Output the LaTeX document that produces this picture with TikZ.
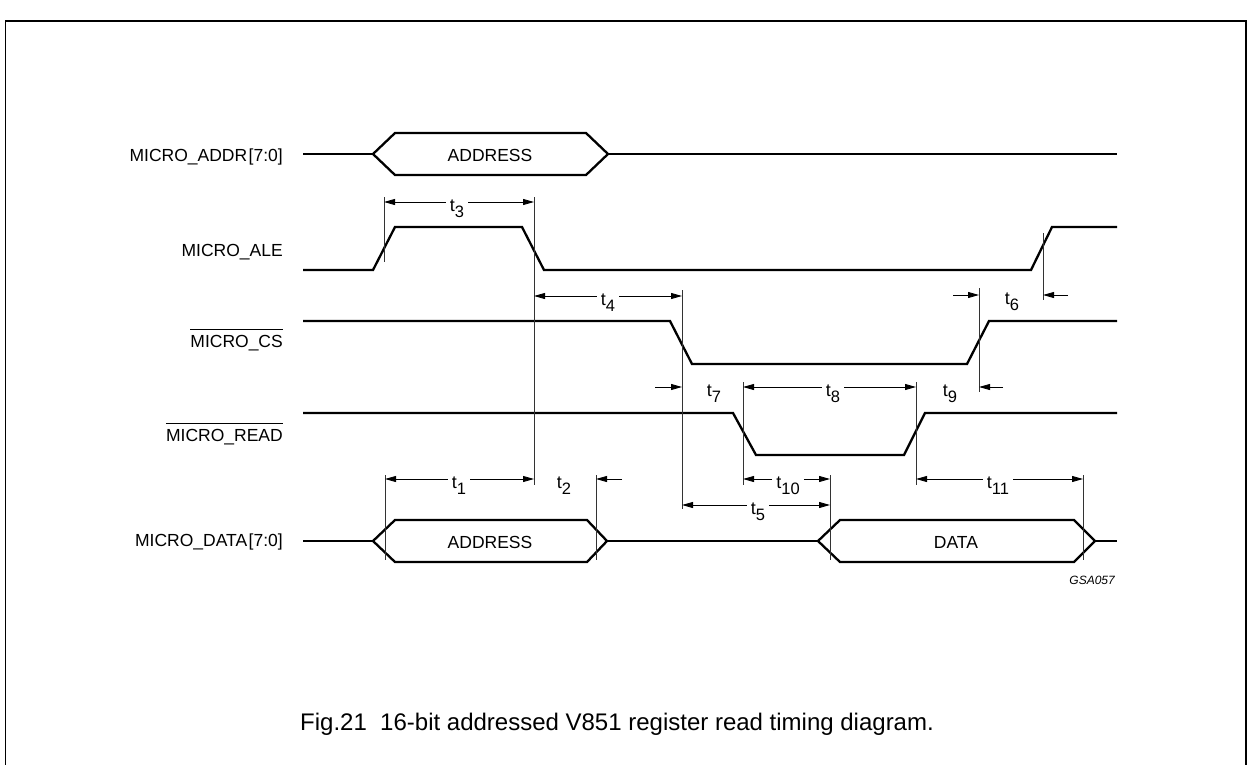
\documentclass[tikz,border=0pt]{standalone}
\usepackage{fontspec}
\setmainfont{Liberation Sans}
\usetikzlibrary{arrows.meta}
\newcommand{\tlab}[1]{t\raisebox{-6pt}{\fontsize{16.5}{16.5}\selectfont #1}}
\begin{document}
\begin{tikzpicture}[x=1pt,y=-1pt,
  sig/.style={line width=2.3pt, line join=miter},
  tickline/.style={line width=0.8pt, draw=black!80},
  dimarrow/.style={line width=0.8pt, -{Triangle[length=11pt,width=6pt]}},
  lab/.style={font=\fontsize{17.5}{21}\selectfont, inner sep=0pt},
  tname/.style={font=\fontsize{18}{21}\selectfont, inner xsep=4pt, inner ysep=0pt, anchor=base}]
\useasboundingbox (0,0) rectangle (1247,764);
% frame
\draw[line width=1.6pt] (5.3,770) -- (5.3,20.7) -- (1246,20.7) -- (1246,770);

% signal names
\node[lab, anchor=base east] (lA) at (283,161.5) {MICRO\_ADDR\kern1.5pt[7:0]};
\node[lab, anchor=base east] (lL) at (283,256.7) {MICRO\_ALE};
\node[lab, anchor=base east] (lC) at (283,347.7) {MICRO\_CS};
\node[lab, anchor=base east] (lR) at (283,441.7) {MICRO\_READ};
\node[lab, anchor=base east] (lD) at (283,546) {MICRO\_DATA\kern1.5pt[7:0]};
\draw[line width=0.8pt] ([yshift=6pt]lC.north west) -- ([yshift=6pt]lC.north east);
\draw[line width=0.8pt] ([yshift=6pt]lR.north west) -- ([yshift=6pt]lR.north east);

% MICRO_ADDR
\draw[sig] (303,154) -- (373,154) (608,154) -- (1117,154);
\draw[sig] (373,154) -- (395,133) -- (586,133) -- (608,154) -- (586,175) -- (395,175) -- cycle;
\node[lab] (aA) at (490,155) {ADDRESS};
% MICRO_ALE
\draw[sig] (303,270) -- (373,270) -- (395,227) -- (522,227) -- (544,270) -- (1031,270) -- (1052,227) -- (1117,227);
% MICRO_CS
\draw[sig] (303,321) -- (670,321) -- (692,364) -- (967,364) -- (989,321) -- (1117,321);
% MICRO_READ
\draw[sig] (303,413) -- (733,413) -- (756,455) -- (904,455) -- (925,413) -- (1117,413);
% MICRO_DATA
\draw[sig] (303,541) -- (373,541) (607,541) -- (818,541) (1095,541) -- (1117,541);
\draw[sig] (373,541) -- (395,520) -- (587,520) -- (607,541) -- (587,562) -- (395,562) -- cycle;
\draw[sig] (818,541) -- (840,520) -- (1074,520) -- (1095,541) -- (1074,562) -- (840,562) -- cycle;
\node[lab] (aD) at (490,542) {ADDRESS};
\node[lab] (dD) at (956,542) {DATA};

% timing reference lines
\draw[tickline] (384,197) -- (384,262);
\draw[tickline] (534,197) -- (534,485);
\draw[tickline] (682,290) -- (682,509);
\draw[tickline] (743,382) -- (743,485);
\draw[tickline] (916,382) -- (916,485);
\draw[tickline] (979,288) -- (979,392);
\draw[tickline] (1043,233) -- (1043,300);
\draw[tickline] (385,475) -- (385,560);
\draw[tickline] (596,475) -- (596,560);
\draw[tickline] (830,475) -- (830,560);
\draw[tickline] (1083,475) -- (1083,560);

% t3
\node[tname] (t3) at (457,211) {\tlab{3}};
\draw[dimarrow] (t3.west |- 0,202) -- (384,202);
\draw[dimarrow] (t3.east |- 0,202) -- (534,202);
% t4
\node[tname] (t4) at (608,305) {\tlab{4}};
\draw[dimarrow] (t4.west |- 0,296) -- (534,296);
\draw[dimarrow] (t4.east |- 0,296) -- (682,296);
% t6
\node[tname] (t6) at (1012,304) {\tlab{6}};
\coordinate (t6a) at (953,295);
\coordinate (t6b) at (1068,295);
\draw[dimarrow] (t6a) -- (979,295);
\draw[dimarrow] (t6b) -- (1043,295);
% t7
\node[tname] (t7) at (714,396) {\tlab{7}};
\coordinate (t7a) at (655,387);
\draw[dimarrow] (t7a) -- (682,387);
% t8
\node[tname] (t8) at (833,396) {\tlab{8}};
\draw[dimarrow] (t8.west |- 0,387) -- (743,387);
\draw[dimarrow] (t8.east |- 0,387) -- (916,387);
% t9
\node[tname] (t9) at (950,396) {\tlab{9}};
\coordinate (t9a) at (1003,387);
\draw[dimarrow] (t9a) -- (979,387);
% t1
\node[tname] (t1) at (459,488) {\tlab{1}};
\draw[dimarrow] (t1.west |- 0,479) -- (385,479);
\draw[dimarrow] (t1.east |- 0,479) -- (534,479);
% t2
\node[tname] (t2) at (564,488) {\tlab{2}};
\coordinate (t2a) at (622,479);
\draw[dimarrow] (t2a) -- (596,479);
% t10
\node[tname] (t10) at (788,488) {\tlab{10}};
\draw[dimarrow] (t10.west |- 0,479) -- (743,479);
\draw[dimarrow] (t10.east |- 0,479) -- (830,479);
% t5
\node[tname] (t5) at (758,514) {\tlab{5}};
\draw[dimarrow] (t5.west |- 0,505) -- (682,505);
\draw[dimarrow] (t5.east |- 0,505) -- (830,505);
% t11
\node[tname] (t11) at (998,488) {\tlab{11}};
\draw[dimarrow] (t11.west |- 0,479) -- (916,479);
\draw[dimarrow] (t11.east |- 0,479) -- (1083,479);

% code and caption
\node[anchor=base east, font=\fontsize{12}{14}\selectfont\itshape, inner sep=0pt] (code) at (1115,584) {GSA057};
\node[anchor=base west, font=\fontsize{24}{28}\selectfont, inner sep=0pt] (cap) at (300,730)
  {Fig.21\hspace{0.556em}16-bit addressed V851 register read timing diagram.};
\end{tikzpicture}
\end{document}
